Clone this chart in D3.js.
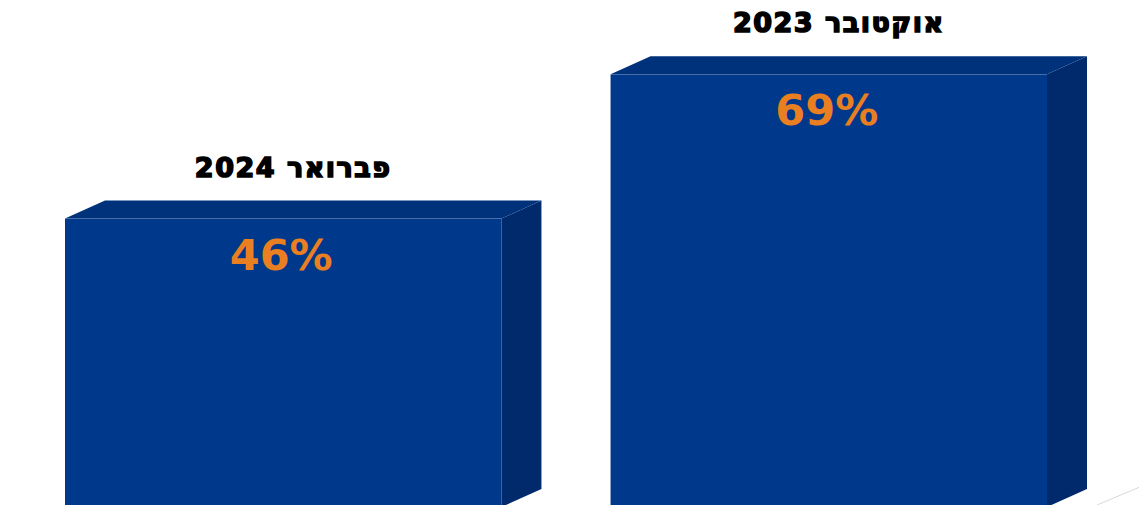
<!DOCTYPE html>
<html>
  <head>
    <meta charset="utf-8" />
    <script src="https://d3js.org/d3.v7.min.js"></script>
    <title>אוקטובר 2023 / פברואר 2024</title>
    <style>
      html, body {
        margin: 0;
        padding: 0;
        background: #fff;
      }
      #chart svg {
        display: block;
      }
    </style>
  </head>
  <body>
    <div id="chart"></div>

    <script>
      // values
      var categories = ["פברואר 2024", "אוקטובר 2023"];
      var values = [46, 69];
      var valueLabels = ["46%", "69%"];

      var width = 1139;
      var height = 505;
      var depthX = 40;   // 3d offset of the top / side faces
      var depthY = 18;

      var svg = d3
        .select("#chart")
        .append("svg")
        .attr("width", width)
        .attr("height", height);

      var x = d3
        .scaleBand()
        .domain(categories)
        .range([65, 1047])
        .paddingInner(0.2)
        .paddingOuter(0);

      // baseline sits just below the picture edge
      var y = d3.scaleLinear().domain([0, 100]).range([507, -120]);

      var bars = svg
        .selectAll("g.bar")
        .data(categories)
        .enter()
        .append("g")
        .attr("class", "bar");

      // side face
      bars
        .append("path")
        .attr("fill", "#002a6b")
        .attr("d", function (d, i) {
          var x1 = x(d) + x.bandwidth();
          var top = y(values[i]);
          var bottom = y(0);
          return "M" + x1 + "," + top +
            "L" + (x1 + depthX) + "," + (top - depthY) +
            "L" + (x1 + depthX) + "," + (bottom - depthY) +
            "L" + x1 + "," + bottom + "Z";
        });

      // top face
      bars
        .append("path")
        .attr("fill", "#00327c")
        .attr("d", function (d, i) {
          var x0 = x(d);
          var x1 = x0 + x.bandwidth();
          var top = y(values[i]);
          return "M" + x0 + "," + top +
            "L" + (x0 + depthX) + "," + (top - depthY) +
            "L" + (x1 + depthX) + "," + (top - depthY) +
            "L" + x1 + "," + top + "Z";
        });

      // front face
      bars
        .append("rect")
        .attr("x", function (d) { return x(d); })
        .attr("y", function (d, i) { return y(values[i]); })
        .attr("width", x.bandwidth())
        .attr("height", function (d, i) { return y(0) - y(values[i]); })
        .attr("fill", "#00388b");

      // percentage inside the bar
      bars
        .append("text")
        .attr("x", function (d) { return x(d) + x.bandwidth() / 2 - 2; })
        .attr("y", function (d, i) { return y(values[i]) + 51; })
        .attr("text-anchor", "middle")
        .attr("font-family", "'DejaVu Sans', sans-serif")
        .attr("font-weight", "bold")
        .attr("font-size", 43)
        .attr("fill", "#ea7f22")
        .text(function (d, i) { return valueLabels[i]; });

      // category above the bar
      bars
        .append("text")
        .attr("x", function (d) { return x(d) + x.bandwidth() / 2 + 10; })
        .attr("y", function (d, i) { return y(values[i]) - depthY - 24; })
        .attr("text-anchor", "middle")
        .attr("direction", "rtl")
        .attr("font-family", "'DejaVu Sans', sans-serif")
        .attr("font-weight", "bold")
        .attr("font-size", 27)
        .attr("letter-spacing", 1.5)
        .attr("fill", "#000")
        .attr("stroke", "#000")
        .attr("stroke-width", 1.6)
        .text(function (d) { return d; });

      // faint floor edge at the bottom right
      svg
        .append("line")
        .attr("x1", 1097)
        .attr("y1", y(0) - 2)
        .attr("x2", 1139 + depthX)
        .attr("y2", y(0) - 2 - (1139 + depthX - 1097) * 0.42)
        .attr("stroke", "#d9d9d9")
        .attr("stroke-width", 1);
    </script>
  </body>
</html>
